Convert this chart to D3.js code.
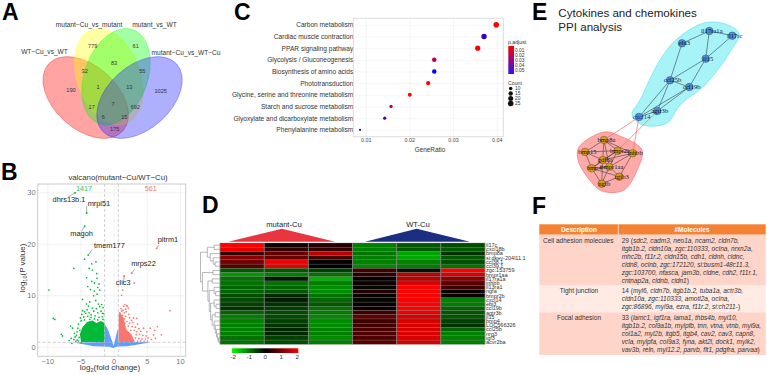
<!DOCTYPE html>
<html>
<head>
<meta charset="utf-8">
<script src="https://cdn.jsdelivr.net/npm/d3@7"></script>
<style>
  body { margin: 0; background: #fff; }
  svg { display: block; font-family: "Liberation Sans", Arial, sans-serif; }
</style>
</head>
<body>
<div id="chart"></div>
<script>
// --- A: venn
const vennSets = ["WT−Cu_vs_WT", "mutant−Cu_vs_mutant", "mutant_vs_WT", "mutant−Cu_vs_WT−Cu"];
const vennColors = ["#ff0000", "#ffff00", "#00ff00", "#2020ff"];
const vennCounts = [190, 779, 61, 1025, 32, 83, 55, 1, 13, 692, 17, 7, 6, 15, 175];
const vennCountX = [71, 92.7, 135.7, 160.7, 84.7, 114, 142.3, 98, 129.3, 135.3, 91.7, 113, 103.3, 124.3, 114.7];
const vennCountY = [90.3, 46, 46, 90.7, 71, 63.3, 70.7, 87, 87, 107.3, 107.3, 104, 117.3, 117, 128.7];

// --- B: volcano
const volTicksX = [-10, -5, 0, 5, 10];
const volTicksY = [0, 10, 20, 30];
// outlines of the solid part of each point cloud
const blueCloud = [[-6,.8],[-3,.1],[-1.5,.05],[-.6,0],[-.05,-.25],[.5,.05],[2,.1],[5,.7],[5.3,.9],[.7,.9],[.7,3.4],[.55,3.2],[.2,1.2],[0,.15],[-.3,1.3],[-.9,3.5],[-1.36,4.4],[-1.36,.9]];
const greenCloud = [[-4.9,.9],[-1.36,.9],[-1.36,4.6],[-1.9,5],[-2.6,4.6],[-3.2,5.1],[-4,4.8],[-4.7,3.8],[-5.1,2.4]];
const redCloud = [[.75,.9],[3.2,.9],[2.7,2.3],[1.9,3.4],[1.5,5.6],[1,6.6],[.75,6.4]];
const greenPoints = [[-9.75,11],[-9.1,5.5],[-8.85,5.3],[-7.9,2.4],[-7.7,2.1],[-6.5,4],[-6.2,3.6],[-6.4,1.6],[-6.3,.65],[-6,15.2],[-4.4,17],[-2.66,16.5],[-3.7,15.2],[-3.2,14.9],[-2.56,14.2],[-4.07,13.4],[-2.5,13.3],[-3.3,12.7],[-2.9,12.4],[-2.2,12.2],[-3.9,11.7],[-2.4,11.5],[-3.5,11.1],[-2.1,11],[-2.9,10.8],[-3,9.9],[-2.5,10.2],[-4.1,8.3],[-3.8,7.9],[-2.3,8.3],[-1.8,8.2],[-2.1,7.8],[-1.6,7.6],[-3.2,7.5],[-4.7,7],[-4.4,6.8],[-4.8,6.3],[-4.2,6.5],[-3.7,6.6],[-3,6.9],[-2.4,6.6],[-1.9,6.9],[-1.5,6.4],[-5,5.6],[-4.5,5.8],[-3.9,5.9],[-3.4,5.7],[-2.8,6],[-2.2,5.7],[-1.7,5.8],[-5.3,4.4],[-4.9,5],[-4.4,5.2],[-3.6,5.3],[-2.9,5.4],[-2.4,5.2],[-1.6,5.3],[-5.4,3.6],[-5.5,2.9],[-5.6,2.2],[-5.8,1.9],[-6,1.4],[-5.5,1.3],[-5.2,1.8],[-5.3,1.1],[-4.9,.8],[-5.7,1.1],[-3.3,16.1],[-4.7,9.2],[-2.7,9],[-3.6,8.7],[-3.4,6.2],[-4,7.2],[-1.7,6.5],[-2.6,7.4],[-5.1,3.2],[-6.7,1.2],[-5.9,2.6]];
const redPoints = [[8.5,7],[6.6,3.9],[6.2,3.2],[5.5,3.6],[7.2,2.3],[6,2.3],[5,2.9],[4.5,3.6],[3,5.6],[3.5,5.5],[1.6,13.7],[3.1,12.4],[1.36,11],[1.2,10],[1.7,8.2],[1.95,8],[2.1,7.9],[1.5,7.9],[1.1,7.4],[1.4,7.1],[1.8,7.3],[2.2,7.5],[1.9,6.8],[1.2,6.9],[.9,6.6],[1.6,6.6],[2.3,6.3],[1.3,6.1],[1.8,5.9],[2.4,5.6],[1.6,5.4],[2.7,5.1],[2,4.9],[1.7,4.6],[2.4,4.6],[2.9,4.7],[3.6,4.4],[2.2,4],[2.8,3.9],[3.3,3.8],[3.8,3.5],[2.6,3.2],[3.1,3.2],[3.5,2.9],[4.1,3],[3.4,2.3],[3.9,2.4],[4.4,2.2],[4.9,2.1],[3.3,1.7],[3.8,1.6],[4.3,1.5],[4.8,1.5],[5.2,1.7],[5.7,1.4],[6.3,1.6],[3.6,1.1],[4.1,1.1],[4.6,1.05],[5.1,1.1]];
const volGenes = ["dhrs13b.1", "mrpl51", "magoh", "tmem177", "pitrm1", "mrps22", "clic3"];
const volGeneX = [-5.83, -4.07, -4.37, -3.83, 6.48, 2.71, 1.6];
const volGeneY = [29.9, 25.97, 23.4, 17.8, 19.1, 14.26, 13.7];
const volGeneGroup = ["down", "down", "down", "down", "up", "up", "up"];

// --- C: KEGG dots
const pathways = ["Carbon metabolism", "Cardiac muscle contraction", "PPAR signaling pathway", "Glycolysis / Gluconeogenesis", "Biosynthesis of amino acids", "Phototransduction", "Glycine, serine and threonine metabolism", "Starch and sucrose metabolism", "Glyoxylate and dicarboxylate metabolism", "Phenylalanine metabolism"];
const geneRatio = [.0399, .0371, .03565, .0257, .0257, .0243, .0201, .0158, .01435, .0087];
const pAdjust = [.01, .042, .01, .022, .05, .01, .01, .02, .04, .045];
const dotCount = [25, 23, 21, 16, 16, 14, 12, 9, 8, 4];
const ratioTicks = [.01, .02, .03, .04];
const pLegend = [.01, .02, .03, .04, .05];
const countLegend = [10, 15, 20, 25];

// --- D: heatmap
const heatGroups = ["mutant-Cu", "WT-Cu"];
const heatGenes = ["il17c", "cxcl18b", "bmp8a", "si:dkey-204l11.1", "ccl38.1", "ccl39.1", "zgc:153759", "bmpr1aa", "il17ra1a", "inhbb", "il13ra1", "ngfa", "bmpr2b", "cxcl14", "ebi3", "ccl19b", "agtr3b", "il15", "bmp4", "LOC566326", "ccl25b", "nrg3", "igf3", "acvr2ba"];
const heatValues = [
  [2.0, .1, .3, -1.0, -.7, -.6],
  [1.8, .4, .4, -1.0, -.7, -.7],
  [.4, .8, 1.5, -.9, -1.3, -.4],
  [1.1, .8, .5, -1.0, -1.3, -.7],
  [.9, 1.9, .05, -1.0, -1.0, -.6],
  [.7, 1.8, 0, -1.1, -1.0, -.9],
  [-.7, -.7, -.5, .5, -.15, 2.0],
  [-1.2, -1.0, -.9, .35, 1.5, 1.7],
  [-.9, -.2, -1.4, .05, 1.5, 1.1],
  [-.9, -.9, -1.0, .1, 1.7, .7],
  [-.8, -.8, -1.1, -.05, 2.0, .5],
  [-.8, -.7, -1.1, .25, 2.0, .05],
  [-.6, -.3, -.9, .05, 2.0, .1],
  [-.6, -.2, -.8, -.05, 2.0, -1.0],
  [-.5, -.4, -.7, .05, 2.0, -1.0],
  [-.4, -.5, -.9, .1, 2.0, -.8],
  [-.8, -.6, -1.0, .5, 1.9, -.7],
  [-1.0, -.6, -1.1, .8, 1.7, -.7],
  [-1.0, -.5, -1.1, .5, 1.7, -.5],
  [-1.0, -.4, -1.1, .5, 1.7, -.35],
  [-1.0, -.3, -1.0, .6, 1.7, -.8],
  [-1.0, -.3, -1.0, .6, 1.7, -1.0],
  [-.9, -.5, -1.1, .6, 1.7, -1.0],
  [-.9, -.6, -1.0, .7, 1.7, -1.0]
];
const heatLegend = [-2, -1, 0, 1, 2];
// merges as [height, left, right], leaves are row numbers
const heatTree = [1,
  [.65, [.3, 0, 1], [.5, 2, [.35, 3, [.25, 4, 5]]]],
  [.9, [.36, 6, 7],
    [.62, [.4, 8, 9],
      [.55, [.3, 10, [.22, 11, 12]],
        [.48, [.3, 13, [.2, 14, 15]],
          [.4, [.25, 16, 17], [.3, 18, [.24, 19, [.18, 20, [.12, 21, [.08, 22, 23]]]]]]]]]]
];

// --- E: network, coordinates are the layout of the PPI plot
const netBlue = ["il17ra1a", "il17rc", "ebi3", "il15", "ccl25b", "ccl19b", "agtr3b", "cxcl14"];
const netBlueX = [129.3, 152.3, 102, 125.7, 90, 109.3, 77.3, 59];
const netBlueY = [11, 15.7, 23.3, 38.7, 60.3, 67, 91, 97];
const netOrange = ["bmp8a", "bmp15", "bmpr2b", "inhbb", "gdf6a", "bmpr1aa", "bmp4", "rgfb3", "ngfb"];
const netOrangeX = [24, 5, 37.7, 52.7, 22.7, 29.3, 11.7, 39.3, 21.7];
const netOrangeY = [120, 132, 130.7, 133.3, 140, 146.7, 148.3, 156.7, 163.7];
const netEdges = [["il17ra1a","il17rc"],["il17ra1a","ebi3"],["il17ra1a","il15"],["il17rc","il15"],["ebi3","ccl25b"],["il15","ccl25b"],["il15","ccl19b"],["ccl25b","ccl19b"],["ccl25b","agtr3b"],["ccl25b","cxcl14"],["ccl19b","agtr3b"],["ccl19b","cxcl14"],["agtr3b","cxcl14"],
  ["bmp8a","bmp15"],["bmp8a","bmpr2b"],["bmp8a","inhbb"],["bmp8a","gdf6a"],["bmp8a","bmpr1aa"],["bmp15","gdf6a"],["bmp15","bmp4"],["bmp15","bmpr2b"],["bmpr2b","inhbb"],["bmpr2b","gdf6a"],["bmpr2b","bmpr1aa"],["bmpr2b","bmp4"],["inhbb","gdf6a"],["inhbb","bmpr1aa"],["inhbb","rgfb3"],["gdf6a","bmpr1aa"],["gdf6a","bmp4"],["gdf6a","ngfb"],["bmpr1aa","bmp4"],["bmpr1aa","rgfb3"],["bmpr1aa","ngfb"],["bmp4","ngfb"],["rgfb3","ngfb"],["bmp4","rgfb3"]];
const netCross = [["cxcl14","bmp8a"],["cxcl14","inhbb"],["agtr3b","bmpr2b"]];
const hullBlue = [[126,2.5],[148,5],[159,14],[150,32],[125,65],[100,85],[87,103],[63,105],[52,95],[60,80],[80,40],[98,18]];
const hullOrange = [[24,112],[40,116],[62,130],[58,148],[44,170],[22,171],[8,158],[-2,140],[-1,127]];

// --- F: table
const tableHead = ["Description", "#Molecules"];
const tableDesc = ["Cell adhesion molecules", "Tight junction", "Focal adhesion"];
const tableCount = ["29 (", "14 (", "33 ("];
const tableLines = [
  ["sdc2, cadm3, neo1a, ncam2, cldn7b,", "itgb1b.2, cldn10a, zgc:110333, ocIna, nrxn2a,", "mhc2b, f11r.2, cldn15b, cdh1, cldnh, cldnc,", "cldn8, oclnb, zgc:172120, si:busm1-48c11.3,", "zgc:103700, nfasca, jam3b, cldne, cdh2, f11r.1,", "cntnap2a, cldnb, cldn1"],
  ["myl6, cldn7b, itgb1b.2, tuba1a, actr3b,", "cldn10a, zgc:110333, amotl2a, ocIna,", "zgc:86896, myl9a, ezra, f11r.2, si:ch211-"],
  ["lamc1, igf1ra, lama1, thbs4b, myl10,", "itgb1b.2, col9a1b, mylpfb, tnn, vtna, vtnb, myl9a,", "col1a2, myl2b, itgb5, itgb4, cav2, cav3, capn8,", "vcla, mylpfa, col9a3, fyna, akt2l, dock1, mylk2,", "vav3b, reln, myl12.2, parvb, flt1, pdgfra, parvaa"]
];

const svg = d3.select("#chart").append("svg")
  .attr("width", 767)
  .attr("height", 375);

// panel letters
[["A", 2, 20], ["B", 1, 180], ["C", 234, 20], ["D", 202, 213], ["E", 532, 20], ["F", 532, 214]].forEach(l => {
  svg.append("text").attr("x", l[1]).attr("y", l[2])
    .style("font-size", "23px").style("font-weight", "bold").text(l[0]);
});

// ---------- A ----------
const venn = svg.append("g");
[[85.7, 97.5, 42], [108.7, 76.7, 70], [116, 76.7, -70], [139.5, 97.5, -42]].forEach((e, i) => {
  venn.append("ellipse")
    .attr("rx", 50).attr("ry", 31.6)
    .attr("transform", `translate(${e[0]},${e[1]}) rotate(${e[2]})`)
    .attr("fill", vennColors[i]).attr("fill-opacity", .36)
    .attr("stroke", vennColors[i]).attr("stroke-opacity", .5).attr("stroke-width", .6);
});
[[44.5, 54], [89, 27], [154.5, 27], [186, 55]].forEach((p, i) => {
  venn.append("text").attr("x", p[0]).attr("y", p[1]).attr("text-anchor", "middle")
    .style("font-size", "6.6px").style("fill", "#333").text(vennSets[i]);
});
vennCounts.forEach((c, i) => {
  venn.append("text").attr("x", vennCountX[i]).attr("y", vennCountY[i] + 2).attr("text-anchor", "middle")
    .style("font-size", "5.6px").style("fill", "#333").text(c);
});

// ---------- B ----------
const volX = d3.scaleLinear().domain([-10, 10]).range([47.3, 180]);
const volY = d3.scaleLinear().domain([0, 30]).range([346.7, 192.3]);
const vol = { left: 37.7, right: 185.7, top: 184, bottom: 356.3 };

const volXAxis = svg.append("g")
  .attr("transform", `translate(0,${vol.bottom})`)
  .call(d3.axisBottom(volX).tickValues(volTicksX).tickSize(vol.top - vol.bottom).tickPadding(2.4));
const volYAxis = svg.append("g")
  .attr("transform", `translate(${vol.left},0)`)
  .call(d3.axisLeft(volY).tickValues(volTicksY).tickSize(vol.left - vol.right).tickPadding(2));
[volXAxis, volYAxis].forEach(a => {
  a.select(".domain").remove();
  a.selectAll("line").attr("stroke", "#eeeeee").attr("stroke-width", .7);
  a.selectAll("text").style("font-size", "7.5px").style("fill", "#777");
});

const cloud = d3.line().x(d => volX(d[0])).y(d => volY(d[1])).curve(d3.curveLinearClosed);
svg.append("path").attr("d", cloud(blueCloud)).attr("fill", "#619CFF");
svg.append("path").attr("d", cloud(greenCloud)).attr("fill", "#00BA38");
svg.append("path").attr("d", cloud(redCloud)).attr("fill", "#F8766D");

svg.append("g").selectAll("circle").data(greenPoints).enter().append("circle")
  .attr("cx", d => volX(d[0])).attr("cy", d => volY(d[1])).attr("r", .85).attr("fill", "#00BA38");
svg.append("g").selectAll("circle").data(redPoints).enter().append("circle")
  .attr("cx", d => volX(d[0])).attr("cy", d => volY(d[1])).attr("r", .85).attr("fill", "#F8766D");

[-1.36, .7].forEach(v => {
  svg.append("line").attr("x1", volX(v)).attr("x2", volX(v)).attr("y1", vol.top).attr("y2", vol.bottom)
    .attr("stroke", "#bbb").attr("stroke-width", .7).attr("stroke-dasharray", "3,2");
});
svg.append("line").attr("x1", vol.left).attr("x2", vol.right).attr("y1", volY(.85)).attr("y2", volY(.85))
  .attr("stroke", "#bbb").attr("stroke-width", .7).attr("stroke-dasharray", "3,2");
svg.append("rect").attr("x", vol.left).attr("y", vol.top)
  .attr("width", vol.right - vol.left).attr("height", vol.bottom - vol.top)
  .attr("fill", "none").attr("stroke", "#ccc");

// gene labels: text offset from its point, anchor, leader offset
[[-6, 9.5, "middle", -7, 4.5], [1, -7, "start", 0, -7], [-3, 10, "middle", -3, 5], [5.7, -7, "start", 4, -5.5], [1, -6, "start", 2, -3.5], [-.5, -7, "start", 3, -4], [-1, 9, "middle", -1, 7]].forEach((o, i) => {
  const px = volX(volGeneX[i]), py = volY(volGeneY[i]);
  svg.append("line").attr("x1", px).attr("y1", py).attr("x2", px + o[3]).attr("y2", py + o[4])
    .attr("stroke", "#333").attr("stroke-width", .4);
  svg.append("circle").attr("cx", px).attr("cy", py).attr("r", .95)
    .attr("fill", volGeneGroup[i] === "down" ? "#00BA38" : "#F8766D");
  svg.append("text").attr("x", px + o[0]).attr("y", py + o[1])
    .attr("text-anchor", o[2])
    .style("font-size", "7.4px").style("fill", "#222").text(volGenes[i]);
});

svg.append("text").attr("x", 118).attr("y", 180).attr("text-anchor", "middle")
  .style("font-size", "7.8px").style("fill", "#333").text("valcano(mutant−Cu/WT−Cu)");
svg.append("text").attr("x", 84).attr("y", 190.5).attr("text-anchor", "middle")
  .style("font-size", "7.2px").style("fill", "#2cc45a").text("1417");
svg.append("text").attr("x", 150.7).attr("y", 190.5).attr("text-anchor", "middle")
  .style("font-size", "7.2px").style("fill", "#F8766D").text("561");

const xLab = svg.append("text").attr("x", 110).attr("y", 370).attr("text-anchor", "middle")
  .style("font-size", "8px").style("fill", "#333");
xLab.append("tspan").text("log");
xLab.append("tspan").attr("dy", 2).style("font-size", "5.5px").text("2");
xLab.append("tspan").attr("dy", -2).text("(fold change)");
const yLab = svg.append("text").attr("transform", "translate(25,268) rotate(-90)").attr("text-anchor", "middle")
  .style("font-size", "8px").style("fill", "#333");
yLab.append("tspan").text("log");
yLab.append("tspan").attr("dy", 2).style("font-size", "5.5px").text("10");
yLab.append("tspan").attr("dy", -2).text("(P value)");

// ---------- C ----------
const dotX = d3.scaleLinear().domain([.01, .04]).range([365.7, 496.7]);
const dotY = d3.scalePoint().domain(pathways).range([24.8, 129.8]);
const dotColor = d3.scaleLinear().domain([.01, .05]).range(["#ff0000", "#0000ff"]);
const dotR = d3.scaleSqrt().domain([0, 25]).range([0, 2.8]);
const dot = { left: 353.3, right: 503.3, top: 18.3, bottom: 136.7 };

const dotXAxis = svg.append("g").attr("transform", `translate(0,${dot.bottom})`)
  .call(d3.axisBottom(dotX).tickValues(ratioTicks).tickFormat(d3.format(".2f")).tickSize(dot.top - dot.bottom).tickPadding(1.5));
const dotYAxis = svg.append("g").attr("transform", `translate(${dot.left},0)`)
  .call(d3.axisLeft(dotY).tickSize(dot.left - dot.right).tickPadding(0));
[dotXAxis, dotYAxis].forEach(a => {
  a.select(".domain").remove();
  a.selectAll("line").attr("stroke", "#f0f0f0").attr("stroke-width", .6);
});
dotXAxis.selectAll("text").style("font-size", "5.4px").style("fill", "#444");
dotYAxis.selectAll("text").style("font-size", "6.6px").style("fill", "#333");

svg.append("rect").attr("x", dot.left).attr("y", dot.top)
  .attr("width", dot.right - dot.left).attr("height", dot.bottom - dot.top)
  .attr("fill", "none").attr("stroke", "#ddd");

svg.append("g").selectAll("circle").data(pathways).enter().append("circle")
  .attr("cx", (d, i) => dotX(geneRatio[i]))
  .attr("cy", d => dotY(d))
  .attr("r", (d, i) => dotR(dotCount[i]))
  .attr("fill", (d, i) => dotColor(pAdjust[i]));

svg.append("text").attr("x", 430).attr("y", 152).attr("text-anchor", "middle")
  .style("font-size", "6.4px").style("fill", "#333").text("GeneRatio");

// legends of C
svg.append("text").attr("x", 508).attr("y", 44).style("font-size", "5.2px").style("fill", "#333").text("p.adjust");
const pGrad = svg.append("defs").append("linearGradient").attr("id", "pgrad")
  .attr("x1", 0).attr("x2", 0).attr("y1", 0).attr("y2", 1);
pGrad.append("stop").attr("offset", "0%").attr("stop-color", "#ff0000");
pGrad.append("stop").attr("offset", "100%").attr("stop-color", "#3010ff");
svg.append("rect").attr("x", 508.3).attr("y", 46).attr("width", 5.7).attr("height", 28).attr("fill", "url(#pgrad)");
const pScale = d3.scaleLinear().domain([.01, .05]).range([50.5, 70.5]);
pLegend.forEach(p => {
  svg.append("text").attr("x", 515).attr("y", pScale(p) + 1.7)
    .style("font-size", "4.8px").style("fill", "#333").text(p.toFixed(2));
});
svg.append("text").attr("x", 508).attr("y", 84.5).style("font-size", "5.2px").style("fill", "#333").text("Count");
const countScale = d3.scalePoint().domain(countLegend).range([88.5, 103.5]);
countLegend.forEach(c => {
  svg.append("circle").attr("cx", 510.7).attr("cy", countScale(c)).attr("r", dotR(c)).attr("fill", "#111");
  svg.append("text").attr("x", 515).attr("y", countScale(c) + 1.7)
    .style("font-size", "4.8px").style("fill", "#333").text(c);
});

// ---------- D ----------
const heatX = d3.scaleBand().domain(d3.range(6)).range([220, 485]);
const heatY = d3.scaleBand().domain(heatGenes).range([243, 344.3]);
const heatColor = d3.scaleLinear().domain([-2, 0, 2]).range(["#00ff00", "#000000", "#ff0000"]);

heatValues.forEach((row, r) => {
  row.forEach((v, c) => {
    svg.append("rect")
      .attr("x", heatX(c)).attr("y", heatY(heatGenes[r]))
      .attr("width", heatX.bandwidth()).attr("height", heatY.bandwidth())
      .attr("fill", heatColor(v))
      .attr("stroke", "#777").attr("stroke-width", .3);
  });
});
// column rules
d3.range(7).forEach(c => {
  svg.append("line").attr("x1", 220 + c * heatX.bandwidth()).attr("x2", 220 + c * heatX.bandwidth())
    .attr("y1", 243).attr("y2", 344.3).attr("stroke", "#8a8a8a").attr("stroke-width", .6);
});
svg.selectAll("text.heat-gene").data(heatGenes).enter().append("text")
  .attr("class", "heat-gene")
  .attr("x", 486).attr("y", d => heatY(d) + heatY.bandwidth() / 2 + 1.9)
  .style("font-size", "5.5px").style("fill", "#333").text(d => d);

// dendrogram
const treeX = d3.scaleLinear().domain([0, 1]).range([220, 200.5]);
function drawTree(n) {
  if (typeof n === "number") return { x: treeX(0), y: heatY(heatGenes[n]) + heatY.bandwidth() / 2 };
  const a = drawTree(n[1]), b = drawTree(n[2]), x = treeX(n[0]);
  svg.append("path")
    .attr("d", `M${a.x},${a.y}H${x}V${b.y}H${b.x}`)
    .attr("fill", "none").attr("stroke", "#888").attr("stroke-width", .6);
  return { x: x, y: (a.y + b.y) / 2 };
}
drawTree(heatTree);

// group triangles
[[228.3, 282, 335, "#e8353f", 284], [365, 416.7, 470, "#1b2f82", 418]].forEach((t, i) => {
  svg.append("path").attr("d", `M${t[0]},241.7L${t[1]},228.7L${t[2]},241.7Z`).attr("fill", t[3]);
  svg.append("text").attr("x", t[4]).attr("y", 226.5).attr("text-anchor", "middle")
    .style("font-size", "7.6px").style("fill", "#222").text(heatGroups[i]);
});

// color key
const keyGrad = svg.select("defs").append("linearGradient").attr("id", "keygrad");
keyGrad.append("stop").attr("offset", "0%").attr("stop-color", "#00ff00");
keyGrad.append("stop").attr("offset", "50%").attr("stop-color", "#000000");
keyGrad.append("stop").attr("offset", "100%").attr("stop-color", "#ff0000");
svg.append("rect").attr("x", 232).attr("y", 348.3).attr("width", 66.3).attr("height", 4.7).attr("fill", "url(#keygrad)");
const keyX = d3.scaleLinear().domain([-2, 2]).range([233.3, 297.3]);
heatLegend.forEach(k => {
  svg.append("text").attr("x", keyX(k)).attr("y", 359).attr("text-anchor", "middle")
    .style("font-size", "6.2px").style("fill", "#333").text(k);
});

// ---------- E ----------
svg.append("text").attr("x", 558.3).attr("y", 16.7).style("font-size", "11.6px").style("fill", "#222").text("Cytokines and chemokines");
svg.append("text").attr("x", 558.3).attr("y", 31).style("font-size", "11.6px").style("fill", "#222").text("PPI analysis");

const netX = d3.scaleLinear().domain([0, 160]).range([580, 740]);
const netY = d3.scaleLinear().domain([0, 170]).range([20, 190]);
const hull = d3.line().x(d => netX(d[0])).y(d => netY(d[1])).curve(d3.curveCatmullRomClosed.alpha(.5));
svg.append("path").attr("d", hull(hullBlue)).attr("fill", "#a6f4f8").attr("stroke", "#55dfe8").attr("stroke-width", .6);
svg.append("path").attr("d", hull(hullOrange)).attr("fill", "#ffa9a9").attr("stroke", "#f06a6a").attr("stroke-width", .6);

const netPos = {};
netBlue.forEach((n, i) => { netPos[n] = [netX(netBlueX[i]), netY(netBlueY[i])]; });
netOrange.forEach((n, i) => { netPos[n] = [netX(netOrangeX[i]), netY(netOrangeY[i])]; });

netEdges.forEach(e => {
  svg.append("line")
    .attr("x1", netPos[e[0]][0]).attr("y1", netPos[e[0]][1])
    .attr("x2", netPos[e[1]][0]).attr("y2", netPos[e[1]][1])
    .attr("stroke", "#3c4048").attr("stroke-width", .6);
});
netCross.forEach(e => {
  svg.append("line")
    .attr("x1", netPos[e[0]][0]).attr("y1", netPos[e[0]][1])
    .attr("x2", netPos[e[1]][0]).attr("y2", netPos[e[1]][1])
    .attr("stroke", "#f06a6a").attr("stroke-width", .7);
});
function drawNode(name, fill, dark) {
  const p = netPos[name];
  svg.append("circle").attr("cx", p[0]).attr("cy", p[1]).attr("r", 3.8)
    .attr("fill", fill).attr("stroke", "#333").attr("stroke-width", .4);
  svg.append("text").attr("x", p[0] + 2.5).attr("y", p[1] + 2)
    .attr("text-anchor", "middle")
    .style("font-family", "'Liberation Serif', serif").style("font-size", "6.6px")
    .style("fill", dark).text(name);
}
netBlue.forEach(n => drawNode(n, "#4a90d9", n === "cxcl14" ? "#1a2a9a" : "#111"));
netOrange.forEach(n => drawNode(n, "#dd9c10", "#111"));

// ---------- F ----------
const tbl = { left: 539.3, mid: 618.3, right: 765.7 };
const rowTops = [224.3, 234.7, 285, 312.3, 355];
const rowFills = ["#F58233", "#FFD5C9", "#FFEAE4", "#FFD5C9"];
rowFills.forEach((f, i) => {
  svg.append("rect").attr("x", tbl.left).attr("y", rowTops[i])
    .attr("width", tbl.right - tbl.left).attr("height", rowTops[i + 1] - rowTops[i]).attr("fill", f);
});
svg.append("line").attr("x1", tbl.mid).attr("x2", tbl.mid).attr("y1", rowTops[0]).attr("y2", rowTops[1])
  .attr("stroke", "#fff").attr("stroke-width", .7);
svg.append("text").attr("x", 579).attr("y", 232).attr("text-anchor", "middle")
  .style("font-size", "6.5px").style("font-weight", "bold").style("fill", "#fff").text(tableHead[0]);
svg.append("text").attr("x", 692).attr("y", 232).attr("text-anchor", "middle")
  .style("font-size", "6.5px").style("font-weight", "bold").style("fill", "#fff").text(tableHead[1]);

tableDesc.forEach((d, i) => {
  const first = [243, 293.3, 320][i];
  const desc = svg.append("text").attr("y", first).style("font-size", "6.5px").style("fill", "#333").text(d);
  if (i === 0) desc.attr("x", 543);
  else desc.attr("x", 579).attr("text-anchor", "middle");

  tableLines[i].forEach((line, j) => {
    const t = svg.append("text").attr("x", 621.7).attr("y", first + j * 8)
      .style("font-size", "6.5px").style("fill", "#333");
    if (j === 0) t.append("tspan").text(tableCount[i]);
    t.append("tspan").style("font-style", "italic").text(line);
    if (j === tableLines[i].length - 1) t.append("tspan").text(")");
  });
});
</script>
</body>
</html>
